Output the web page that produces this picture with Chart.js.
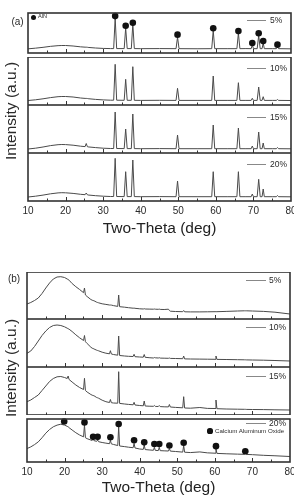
<!DOCTYPE html>
<html><head><meta charset="utf-8">
<script src="https://cdn.jsdelivr.net/npm/chart.js@4.4.1/dist/chart.umd.min.js"></script>
<style>
html,body{margin:0;padding:0;width:294px;height:499px;overflow:hidden;background:#fff;font-family:"Liberation Sans",Arial,sans-serif;}
.box{position:absolute;}
.t{position:absolute;white-space:nowrap;color:#2a2a2a;line-height:1;font-family:"Liberation Sans",Arial,sans-serif;}
.ln{position:absolute;height:0;border-top:1px solid #888;}
.dot{position:absolute;border-radius:50%;background:#111;}
</style></head><body>
<script>
// ---------------- DATA ----------------
const xTicks = [10, 20, 30, 40, 50, 60, 70, 80];
const xTitle = 'Two-Theta (deg)';
const yTitle = 'Intensity (a.u.)';
const seriesLabels = ['5%', '10%', '15%', '20%'];

// Panel (a): AlN patterns
const thetaA = [10, 12, 14, 16, 18, 19, 20, 22, 24, 25.2, 25.5, 25.8, 26, 28, 30, 32,
  32.8, 33.2, 33.6, 35.6, 36.0, 36.4, 37.5, 37.9, 38.3, 40, 45, 49.4, 49.8, 50.2, 55,
  58.9, 59.3, 59.7, 63, 65.6, 66.0, 66.4, 68, 69.4, 69.7, 70.0, 71.0, 71.4, 71.8,
  72.3, 72.6, 72.9, 75, 76.1, 76.4, 76.7, 80];
const a5 = [5, 5.8, 6.8, 8, 8.8, 9, 9, 8.4, 7.4, 7, 7, 6.9, 6.7, 6, 5.5, 5.3,
  5.3, 42, 5.3, 5.3, 30, 5.3, 5.3, 35, 5.3, 5.2, 5.3, 5.2, 19, 5.2, 5.1,
  5.2, 27, 5.2, 5.2, 5.2, 24, 5.2, 5.3, 5.2, 10, 5.2, 5.2, 21, 5.2,
  5.2, 12, 5.2, 5.2, 5.2, 7, 5.2, 5];
const a10 = [4.5, 5.2, 6.2, 7.4, 8.3, 8.5, 8.5, 8, 7, 6.6, 6.6, 6.5, 6.3, 5.6, 5.1, 4.8,
  4.8, 40.7, 4.8, 4.7, 25.7, 4.7, 4.7, 38.3, 4.7, 4.6, 4.7, 4.6, 16.7, 4.6, 4.6,
  4.6, 29, 4.6, 4.6, 4.6, 22.3, 4.6, 4.6, 4.6, 6.7, 4.6, 4.6, 18, 4.6,
  4.6, 8.3, 4.6, 4.6, 4.6, 5.5, 4.6, 4.5];
const a15 = [4, 4.8, 6, 7.4, 8.3, 8.5, 8.4, 7.8, 6.8, 6.4, 9.5, 6.3, 6.1, 5.4, 4.8, 4.5,
  4.5, 41, 4.5, 4.4, 24, 4.4, 4.4, 39, 4.4, 4.3, 4.4, 4.3, 18, 4.3, 4.3,
  4.3, 28, 4.3, 4.3, 4.3, 25, 4.3, 4.3, 4.3, 7, 4.3, 4.3, 21, 4.3,
  4.3, 10, 4.3, 4.3, 4.3, 5.5, 4.3, 4.2];
const a20 = [4, 4.8, 5.9, 7.2, 8.1, 8.3, 8.2, 7.6, 6.7, 6.3, 8, 6.2, 6, 5.3, 4.8, 4.5,
  4.5, 42.7, 4.5, 4.4, 29.3, 4.4, 4.4, 41, 4.4, 4.3, 4.4, 4.3, 20, 4.3, 4.3,
  4.3, 29.3, 4.3, 4.3, 4.3, 29.3, 4.3, 4.3, 4.3, 7, 4.3, 4.3, 21.7, 4.3,
  4.3, 12, 4.3, 4.3, 4.3, 5.5, 4.3, 4.2];
const alnMarkTheta = [33.2, 36.0, 37.9, 49.8, 59.3, 66.0, 69.7, 71.4, 72.6, 76.4];
const alnMarkY = [44.3, 32.7, 36.3, 22, 29.7, 26.3, 12, 23.7, 14.3, 10];

// Panel (b): Calcium aluminum oxide patterns
const thetaB = [10, 11, 12, 13, 14, 15, 16, 17, 18, 19, 20,
  20.7, 20.95, 21.2, 22, 23, 24, 25.05, 25.3, 25.55, 26, 27,
  27.35, 27.6, 27.85, 28.55, 28.8, 29.05, 30, 31, 31.95, 32.2, 32.45, 33,
  34.15, 34.4, 34.65, 36, 37, 38.25, 38.5, 38.75, 40, 40.95, 41.2, 41.45, 42.5,
  43.65, 43.9, 44.15, 44.95, 45.2, 45.45, 46.5, 47.65, 47.9, 48.15, 49.5,
  51.45, 51.7, 51.95, 53.5, 56, 58, 60.05, 60.3, 60.55, 63, 66,
  67.85, 68.1, 68.35, 70, 73, 76, 80];
const b5 = [15, 16.5, 18.5, 21, 25.5, 31, 36, 40, 42, 42.3, 41.5,
  40, 39.5, 38.8, 35.5, 32.3, 29.5, 26.3, 31, 24, 22.5, 19.5,
  18.8, 18.5, 18.2, 16.8, 16.5, 16.2, 15.2, 14.6, 14, 14, 13.9, 13.4,
  12.6, 24, 12.3, 11.8, 11.3, 10.8, 10.9, 10.7, 10.2, 10, 10.3, 10, 9.9,
  9.8, 10, 9.8, 9.7, 9.9, 9.6, 9.5, 9.8, 8.5, 7.8, 7.5,
  7.3, 8.5, 7.2, 7.1, 7.1, 7.2, 7.3, 7.3, 7.3, 7.6, 8,
  8.2, 8.2, 8.2, 8, 7.6, 6.8, 5];
const b10 = [13.7, 16, 20.5, 26, 31.5, 36, 39.5, 41.5, 42, 41.5, 40.2,
  38.8, 38.3, 37.8, 35.5, 32.2, 29.2, 26.5, 31.5, 25.3, 23.5, 19.8,
  18.8, 18.5, 18, 16.8, 16.5, 16.2, 14.8, 13.8, 13.2, 16.3, 13, 12.5,
  11.8, 31, 11.5, 11, 10.7, 10.5, 12.7, 10.3, 10, 9.8, 12.5, 9.7, 9.3,
  9, 9.5, 9.2, 9, 9.3, 8.9, 8.8, 8.7, 9, 8.6, 8.5,
  8.3, 11, 8.1, 8, 7.9, 7.8, 7.7, 11, 7.6, 7.5, 7.3,
  7.2, 7.2, 7.1, 7, 6.8, 6.5, 6];
const b15 = [13.3, 15, 17.5, 20, 24.5, 29, 33.5, 36.5, 38.2, 38.5, 37.5,
  36.5, 39, 35.5, 33, 30, 27.5, 25.5, 36.7, 24.5, 23, 20.5,
  19.8, 19.5, 19.2, 17.5, 17.2, 16.8, 14.8, 13.3, 12.5, 15.5, 12.3, 12,
  11.8, 43.3, 11.6, 11, 10.6, 10.2, 12.7, 10, 9.5, 9.2, 14, 9, 8.8,
  8.7, 9.5, 8.6, 8.5, 9.5, 8.4, 8.2, 8.1, 10.5, 8, 7.6,
  7.2, 18.3, 7, 6.8, 7.5, 6.6, 6.5, 15, 6.3, 6, 5.8,
  5.7, 5.7, 5.6, 5.5, 5.4, 5.2, 5];
const b20 = [14.7, 16.5, 19, 22, 26.5, 31.5, 35.5, 38.5, 40.3, 41.3, 40.3,
  39, 38.5, 37.5, 35, 32, 29.5, 27.5, 40.5, 26.5, 25.5, 24,
  23.6, 25, 23.3, 22.6, 24, 22.2, 21.3, 20.6, 20, 23.7, 19.8, 19.2,
  18, 38.7, 17.5, 16.8, 16.2, 15.6, 20.3, 15.3, 14.2, 13.8, 18.5, 13.6, 13.2,
  12.8, 16, 12.7, 12.5, 16, 12.4, 12.2, 12, 14.7, 11.9, 11.5,
  10.8, 18, 10.7, 10.3, 11, 10, 9.6, 14.5, 9.4, 9, 8.6,
  8.4, 9.2, 8.3, 8, 7.3, 6.8, 6];
const caoMarkTheta = [19.9, 25.3, 27.6, 28.8, 32.2, 34.4, 38.5, 41.2, 43.9, 45.2, 47.9, 51.7, 60.3, 68.1];
const caoMarkY = [44.3, 43.3, 27.5, 27.5, 27, 41.5, 23.7, 21.5, 19.7, 19.7, 18, 21, 17.3, 11.8];

// ---------------- LAYOUT / STYLE ----------------
const PAD = 16;
const FONT = '"Liberation Sans", Arial, sans-serif';
const LINE_COLOR = '#4a4a4a';

const framePlugin = {
  id: 'frame',
  afterDatasetsDraw(chart) {
    const { ctx, chartArea: a, scales } = chart;
    const x = scales.x;
    ctx.save();
    ctx.strokeStyle = '#333';
    ctx.lineWidth = 1;
    for (let v = 15; v < 80; v += 5) {
      const px = Math.round(x.getPixelForValue(v)) + 0.5;
      const len = (v % 10 === 0) ? 4 : 2.5;
      ctx.beginPath();
      ctx.moveTo(px, a.bottom);
      ctx.lineTo(px, a.bottom - len);
      ctx.stroke();
    }
    ctx.lineWidth = 1.6;
    ctx.strokeRect(a.left, a.top, a.right - a.left, a.bottom - a.top);
    ctx.restore();
  }
};

function makeChart(L, R, top, bottom, isBottom, axisH, datasets) {
  const h = bottom - top;
  const div = document.createElement('div');
  div.className = 'box';
  div.style.left = (L - PAD) + 'px';
  div.style.top = top + 'px';
  div.style.width = (R - L + 2 * PAD) + 'px';
  div.style.height = (h + (isBottom ? axisH : 0)) + 'px';
  const c = document.createElement('canvas');
  div.appendChild(c);
  document.body.appendChild(div);
  new Chart(c, {
    type: 'line',
    data: { datasets },
    options: {
      responsive: true, maintainAspectRatio: false, animation: false, events: [],
      layout: { padding: { left: PAD, right: PAD, top: 0, bottom: 0 } },
      plugins: { legend: { display: false }, tooltip: { enabled: false } },
      scales: {
        x: {
          type: 'linear', min: 10, max: 80, display: isBottom,
          grid: { display: false, drawTicks: false }, border: { display: false },
          afterBuildTicks: s => { s.ticks = xTicks.map(v => ({ value: v })); },
          ticks: { padding: 4, color: '#2a2a2a', maxRotation: 0, autoSkip: false,
                   font: { family: FONT, size: 10 } },
          title: { display: true, text: xTitle, color: '#222',
                   font: { family: FONT, size: 15.5 }, padding: { top: 0, bottom: 0 } },
          afterFit: s => { if (isBottom) s.height = axisH; }
        },
        y: { display: false, min: 0, max: h }
      }
    },
    plugins: [framePlugin]
  });
}

function lineSet(theta, vals, label) {
  return { label, data: theta.map((t, i) => ({ x: t, y: vals[i] })),
    borderColor: LINE_COLOR, borderWidth: 1, pointRadius: 0, tension: 0, fill: false };
}
function dotSet(theta, vals, label) {
  return { label, data: theta.map((t, i) => ({ x: t, y: vals[i] })), showLine: false,
    pointRadius: 3.3, pointBackgroundColor: '#111', pointBorderWidth: 0, clip: false };
}

// Panel (a)
const A = { L: 28, R: 291, tops: [9, 57, 105, 153, 201] };
const seriesA = [a5, a10, a15, a20];
seriesA.forEach((s, i) => {
  const ds = [lineSet(thetaA, s, seriesLabels[i])];
  if (i === 0) ds.unshift(dotSet(alnMarkTheta, alnMarkY, 'AlN'));
  makeChart(A.L, A.R, A.tops[i], A.tops[i + 1], i === 3, 37, ds);
});

// Panel (b)
const B = { L: 27, R: 290, tops: [272, 319, 367, 415, 462] };
const seriesB = [b5, b10, b15, b20];
seriesB.forEach((s, i) => {
  const ds = [lineSet(thetaB, s, seriesLabels[i])];
  if (i === 3) ds.unshift(dotSet(caoMarkTheta, caoMarkY, 'Calcium Aluminum Oxide'));
  makeChart(B.L, B.R, B.tops[i], B.tops[i + 1], i === 3, 35, ds);
});

// ---------------- TEXT OVERLAYS ----------------
function text(str, x, y, size, mode) {
  const d = document.createElement('div');
  d.className = 't';
  d.textContent = str;
  d.style.fontSize = size + 'px';
  d.style.left = x + 'px';
  d.style.top = y + 'px';
  d.style.transform = mode === 'rot' ? 'translate(-50%,-50%) rotate(-90deg)'
    : mode === 'c' ? 'translate(-50%,-50%)' : 'translate(0,-50%)';
  document.body.appendChild(d);
}
function hline(x1, x2, y) {
  const d = document.createElement('div');
  d.className = 'ln';
  d.style.left = x1 + 'px'; d.style.top = y + 'px'; d.style.width = (x2 - x1) + 'px';
  document.body.appendChild(d);
}
function dot(x, y, r) {
  const d = document.createElement('div');
  d.className = 'dot';
  d.style.left = (x - r) + 'px'; d.style.top = (y - r) + 'px';
  d.style.width = 2 * r + 'px'; d.style.height = 2 * r + 'px';
  document.body.appendChild(d);
}

text('(a)', 17.5, 22, 10, 'c');
text('(b)', 14, 278.5, 10, 'c');
text(yTitle, 11, 111, 15.5, 'rot');
text(yTitle, 11, 368, 15.5, 'rot');

[20, 68, 117, 164].forEach((y, i) => { hline(247, 266, y); text(seriesLabels[i], 270, y, 8.5); });
[280, 327, 376, 423].forEach((y, i) => { hline(246, 266, y); text(seriesLabels[i], 269, y, 8.5); });

dot(33, 17, 2.5); text('AlN', 38, 17, 5.6);
dot(210, 431, 2.6); text('Calcium Aluminum Oxide', 215, 431, 6.2);
</script>
</body></html>
